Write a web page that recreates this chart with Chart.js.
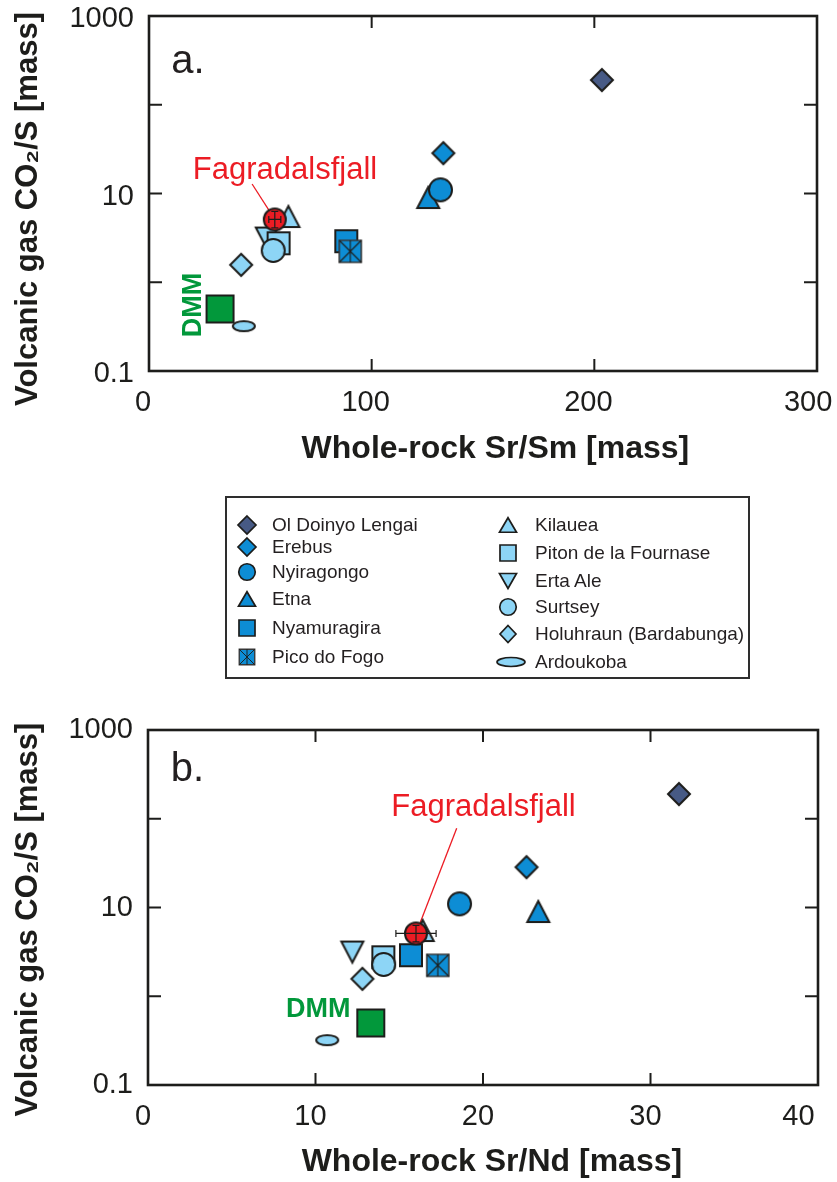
<!DOCTYPE html>
<html>
<head>
<meta charset="utf-8">
<script src="https://cdn.jsdelivr.net/npm/chart.js@4.4.1/dist/chart.umd.min.js"></script>
<style>
  body { margin: 0; background: #fff; width: 837px; height: 1182px; position: relative; overflow: hidden;
         font-family: "Liberation Sans", Arial, sans-serif; }
  #chartA { position: absolute; left: 0; top: 0; }
  #chartB { position: absolute; left: 0; top: 700px; }
  #legendBox { position: absolute; left: 225px; top: 496px; width: 525px; height: 183px;
               border: 2.5px solid #2e2e2e; box-sizing: border-box; }
  #legendMarks { position: absolute; left: 226px; top: 497px; }
  .lt { position: absolute; font-size: 19px; line-height: 22px; height: 22px; color: #231f20; white-space: nowrap; }
</style>
</head>
<body>
<canvas id="chartA" width="837" height="480"></canvas>
<div id="legendBox"></div>
<canvas id="legendMarks" width="523" height="181"></canvas>
<canvas id="chartB" width="837" height="482"></canvas>
<script>
// ---- data ----
const volcanoes = ['Ol Doinyo Lengai', 'Erebus', 'Nyiragongo', 'Etna', 'Nyamuragira', 'Pico do Fogo',
                   'Kilauea', 'Piton de la Fournase', 'Erta Ale', 'Surtsey', 'Holuhraun (Bardabunga)', 'Ardoukoba'];
const co2S = [190, 28.5, 11, 9.0, 2.9, 2.23, 5.5, 2.75, 3.15, 2.28, 1.57, 0.32];
const srSm = [203.4, 132.2, 130.9, 125.4, 88.6, 90.4, 62.6, 58.2, 52.9, 55.8, 41.4, 42.6];
const srNd = [31.7, 22.6, 18.6, 23.3, 15.7, 17.3, 16.4, 14.05, 12.2, 14.07, 12.8, 10.7];

const dmmSrSm = 31.9, dmmSrNd = 13.3, dmmCO2S = 0.5;
const fagSrSm = 56.5, fagSrSmErr = 2.7;
const fagSrNd = 16.0, fagSrNdErr = 1.2;
const fagCO2S = 5.1, fagCO2SLow = 4.1, fagCO2SHigh = 6.3;

const yTicks = [0.1, 1, 10, 100, 1000];
const yTickLabels = [0.1, 10, 1000];
const srSmTicks = [0, 100, 200, 300];
const srNdTicks = [0, 10, 20, 30, 40];

// ---- styles ----
const SLATE = '#475a85', MID = '#0d8dd5', LIGHT = '#8dd5f6', GREEN = '#02983b', RED = '#ec1c24', INK = '#1d1d1b';
const FONT = '"Liberation Sans", Arial, sans-serif';
const shapes = ['diamond', 'diamond', 'circle', 'triangle', 'square', 'pico',
                'triangle', 'square', 'triangleDown', 'circle', 'diamond', 'ellipse'];
const fills = [SLATE, MID, MID, MID, MID, MID, LIGHT, LIGHT, LIGHT, LIGHT, LIGHT, LIGHT];
// lower = drawn on top
const zRank = [13, 12, 10, 11, 4, 3, 8, 6, 7, 5, 9, 1];
const markSize = { diamond: [22, 22], circle: [23, 23], triangle: [22, 21], triangleDown: [22, 21],
                   square: [22, 22], pico: [22, 22], ellipse: [22, 10] };
const legendSize = { diamond: [18, 18], circle: [16.5, 16.5], triangle: [17, 14.5], triangleDown: [17, 15],
                     square: [16, 16], pico: [15.5, 15.5], ellipse: [28, 9] };

Chart.defaults.font.family = FONT;
Chart.defaults.color = INK;

function drawSymbol(ctx, shape, cx, cy, w, h, fill, lw) {
  const hw = w / 2, hh = h / 2;
  ctx.save();
  ctx.fillStyle = fill;
  ctx.strokeStyle = shape === 'pico' ? '#383838' : INK;
  ctx.lineWidth = shape === 'pico' ? lw * 0.8 : lw;
  ctx.lineJoin = 'miter';
  ctx.beginPath();
  switch (shape) {
    case 'circle': ctx.arc(cx, cy, hw, 0, Math.PI * 2); break;
    case 'ellipse': ctx.ellipse(cx, cy, hw, hh, 0, 0, Math.PI * 2); break;
    case 'diamond':
      ctx.moveTo(cx, cy - hh); ctx.lineTo(cx + hw, cy); ctx.lineTo(cx, cy + hh); ctx.lineTo(cx - hw, cy);
      ctx.closePath(); break;
    case 'triangle':
      ctx.moveTo(cx, cy - hh); ctx.lineTo(cx + hw, cy + hh); ctx.lineTo(cx - hw, cy + hh); ctx.closePath(); break;
    case 'triangleDown':
      ctx.moveTo(cx - hw, cy - hh); ctx.lineTo(cx + hw, cy - hh); ctx.lineTo(cx, cy + hh); ctx.closePath(); break;
    default: ctx.rect(cx - hw, cy - hh, w, h);
  }
  ctx.fill();
  ctx.stroke();
  if (shape === 'pico') {
    ctx.beginPath();
    ctx.moveTo(cx - hw, cy - hh); ctx.lineTo(cx + hw, cy + hh);
    ctx.moveTo(cx + hw, cy - hh); ctx.lineTo(cx - hw, cy + hh);
    ctx.moveTo(cx, cy - hh); ctx.lineTo(cx, cy + hh);
    ctx.strokeStyle = INK;
    ctx.lineWidth = lw * 0.55;
    ctx.stroke();
  }
  ctx.restore();
}

function marker(shape, fill, w, h, lw) {
  lw = lw || 2;
  const c = document.createElement('canvas');
  c.width = Math.round(w + lw * 3 + 2);
  c.height = Math.round(h + lw * 3 + 2);
  drawSymbol(c.getContext('2d'), shape, c.width / 2, c.height / 2, w, h, fill, lw);
  return c;
}

// frame, inward ticks, error bars, annotations
const decorPlugin = {
  id: 'decor',
  beforeDatasetsDraw(chart, args, o) {
    const { ctx, scales: { x, y } } = chart;
    ctx.save();
    ctx.strokeStyle = RED;
    ctx.lineWidth = 1.3;
    ctx.beginPath();
    ctx.moveTo(x.getPixelForValue(o.leadX), y.getPixelForValue(o.leadY));
    ctx.lineTo(x.getPixelForValue(o.fagX), y.getPixelForValue(fagCO2S));
    ctx.stroke();
    ctx.restore();
  },
  afterDatasetsDraw(chart, args, o) {
    const { ctx, chartArea: a, scales: { x, y } } = chart;
    ctx.save();
    // error bars
    const px = x.getPixelForValue(o.fagX), py = y.getPixelForValue(fagCO2S);
    const xl = x.getPixelForValue(o.fagX - o.fagXErr), xr = x.getPixelForValue(o.fagX + o.fagXErr);
    const yl = y.getPixelForValue(fagCO2SLow), yh = y.getPixelForValue(fagCO2SHigh);
    ctx.strokeStyle = INK;
    ctx.lineWidth = 1.2;
    ctx.beginPath();
    ctx.moveTo(xl, py); ctx.lineTo(xr, py);
    ctx.moveTo(xl, py - 3.5); ctx.lineTo(xl, py + 3.5);
    ctx.moveTo(xr, py - 3.5); ctx.lineTo(xr, py + 3.5);
    ctx.moveTo(px, yl); ctx.lineTo(px, yh);
    ctx.moveTo(px - 3.5, yl); ctx.lineTo(px + 3.5, yl);
    ctx.moveTo(px - 3.5, yh); ctx.lineTo(px + 3.5, yh);
    ctx.stroke();

    // box
    ctx.lineWidth = 2.6;
    ctx.strokeRect(a.left, a.top, a.right - a.left, a.bottom - a.top);
    ctx.lineWidth = 2;
    ctx.beginPath();
    x.ticks.slice(1, -1).forEach(t => {
      const p = x.getPixelForValue(t.value);
      ctx.moveTo(p, a.bottom); ctx.lineTo(p, a.bottom - 12);
      ctx.moveTo(p, a.top); ctx.lineTo(p, a.top + 12);
    });
    y.ticks.slice(1, -1).forEach(t => {
      const p = y.getPixelForValue(t.value);
      ctx.moveTo(a.left, p); ctx.lineTo(a.left + 13, p);
      ctx.moveTo(a.right, p); ctx.lineTo(a.right - 13, p);
    });
    ctx.stroke();

    // labels
    ctx.textAlign = 'center';
    ctx.textBaseline = 'middle';
    ctx.fillStyle = '#231f20';
    ctx.font = '40px ' + FONT;
    ctx.fillText(o.panel, x.getPixelForValue(o.panelX), y.getPixelForValue(o.panelY));

    ctx.fillStyle = RED;
    ctx.font = '31px ' + FONT;
    ctx.fillText('Fagradalsfjall', x.getPixelForValue(o.fagLabelX), y.getPixelForValue(o.fagLabelY));

    ctx.fillStyle = GREEN;
    ctx.font = 'bold 27px ' + FONT;
    const dx = x.getPixelForValue(o.dmmLabelX), dy = y.getPixelForValue(o.dmmLabelY);
    if (o.dmmRotate) {
      ctx.translate(dx, dy);
      ctx.rotate(-Math.PI / 2);
      ctx.fillText('DMM', 0, 0);
    } else {
      ctx.fillText('DMM', dx, dy);
    }
    ctx.restore();
  }
};

function makeChart(id, c) {
  const datasets = volcanoes.map((name, i) => ({
    label: name,
    data: [{ x: c.xValues[i], y: co2S[i] }],
    pointStyle: marker(shapes[i], fills[i], markSize[shapes[i]][0], markSize[shapes[i]][1]),
    order: zRank[i]
  }));
  datasets.push({ label: 'DMM', data: [{ x: c.dmmX, y: dmmCO2S }], pointStyle: marker('square', GREEN, 27, 27), order: 2 });
  datasets.push({ label: 'Fagradalsfjall', data: [{ x: c.fagX, y: fagCO2S }], pointStyle: marker('circle', RED, 22, 22), order: 0 });

  const xt = c.xTicks, xMax = xt[xt.length - 1];
  return new Chart(document.getElementById(id), {
    type: 'scatter',
    data: { datasets },
    plugins: [decorPlugin],
    options: {
      responsive: false,
      animation: false,
      events: [],
      elements: { point: { radius: 10, hoverRadius: 10 } },
      layout: { padding: c.padding },
      plugins: {
        legend: { display: false },
        tooltip: { enabled: false },
        decor: c.decor
      },
      scales: {
        x: {
          type: 'linear', min: xt[0], max: xMax,
          afterBuildTicks(s) { s.ticks = xt.map(v => ({ value: v })); },
          afterFit(s) { s.height = c.xAxisHeight; s.paddingLeft = 0; s.paddingRight = 0; },
          grid: { display: false, drawTicks: false },
          border: { display: false },
          ticks: {
            autoSkip: false, maxRotation: 0, padding: 15, labelOffset: c.xLabelOffset,
            font: { size: 29 }, color: INK,
            callback: v => v === xMax ? v + c.lastPad : String(v)
          },
          title: { display: true, text: c.xTitle, color: INK,
                   font: { size: 32, weight: 'bold' }, padding: { top: 0, bottom: c.xTitlePad } }
        },
        y: {
          type: 'logarithmic', min: 0.1, max: 1000,
          afterBuildTicks(s) { s.ticks = yTicks.map(v => ({ value: v })); },
          afterFit(s) { s.width = c.yAxisWidth; s.paddingTop = 0; s.paddingBottom = 0; },
          grid: { display: false, drawTicks: false },
          border: { display: false },
          ticks: {
            autoSkip: false, padding: 15, labelOffset: c.yLabelOffset,
            font: { size: 29 }, color: INK,
            callback: v => yTickLabels.includes(v) ? String(v) : ''
          },
          title: { display: true, text: c.yTitle, color: INK,
                   font: { size: 31, weight: 'bold' }, padding: { top: 10, bottom: 0 } }
        }
      }
    }
  });
}

makeChart('chartA', {
  xValues: srSm, xTicks: srSmTicks, dmmX: dmmSrSm, fagX: fagSrSm,
  padding: { left: 0, top: 16, right: 20, bottom: 0 },
  xAxisHeight: 109, yAxisWidth: 149, xTitlePad: 12,
  xLabelOffset: -6, yLabelOffset: 3, lastPad: '\u2009',
  xTitle: '\u2002 Whole-rock Sr/Sm [mass]',
  yTitle: 'Volcanic gas CO\u2082/S [mass]\u2002\u2002',
  decor: {
    fagX: fagSrSm, fagXErr: fagSrSmErr,
    leadX: 46.3, leadY: 12.8,
    panel: 'a.', panelX: 17.5, panelY: 300,
    fagLabelX: 61.1, fagLabelY: 18.4,
    dmmLabelX: 19.8, dmmLabelY: 0.554, dmmRotate: true
  }
});

makeChart('chartB', {
  xValues: srNd, xTicks: srNdTicks, dmmX: dmmSrNd, fagX: fagSrNd,
  padding: { left: 0, top: 30, right: 19, bottom: 0 },
  xAxisHeight: 97, yAxisWidth: 148, xTitlePad: 1,
  xLabelOffset: -5, yLabelOffset: 0, lastPad: '\u2003',
  xTitle: '  Whole-rock Sr/Nd [mass]',
  yTitle: 'Volcanic gas CO\u2082/S [mass]\u2002 ',
  decor: {
    fagX: fagSrNd, fagXErr: fagSrNdErr,
    leadX: 18.43, leadY: 78,
    panel: 'b.', panelX: 2.36, panelY: 354,
    fagLabelX: 20.03, fagLabelY: 135.6,
    dmmLabelX: 10.17, dmmLabelY: 0.70, dmmRotate: false
  }
});

// ---- legend ----
const legendRowsLeft = [525, 547, 572, 599, 628, 657];
const legendRowsRight = [525, 553, 581, 607, 634, 662];
const lctx = document.getElementById('legendMarks').getContext('2d');
volcanoes.forEach((name, i) => {
  const right = i >= 6;
  const cy = right ? legendRowsRight[i - 6] : legendRowsLeft[i];
  const shape = shapes[i];
  let [w, h] = legendSize[shape];
  if (name.startsWith('Holuhraun')) { w = 16; h = 17; }
  const sx = right ? (shape === 'ellipse' ? 511 : 508) : 247;
  drawSymbol(lctx, shape, sx - 226, cy - 497, w, h, fills[i], 1.7);
  const t = document.createElement('div');
  t.className = 'lt';
  t.textContent = name;
  t.style.left = (right ? 535 : 272) + 'px';
  t.style.top = (cy - 11) + 'px';
  document.body.appendChild(t);
});
</script>
</body>
</html>
